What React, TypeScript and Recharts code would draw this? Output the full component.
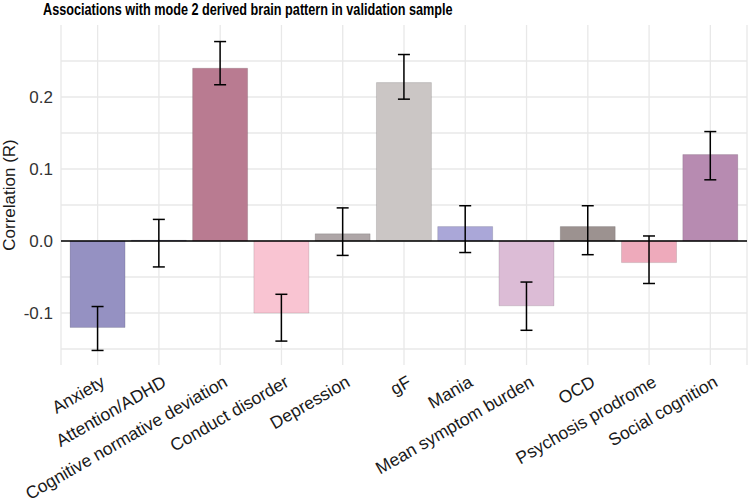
import { BarChart, Bar, XAxis, YAxis, CartesianGrid, ReferenceLine, ErrorBar, Cell } from 'recharts'

const categories = [
  'Anxiety', 'Attention/ADHD', 'Cognitive normative deviation', 'Conduct disorder', 'Depression',
  'gF', 'Mania', 'Mean symptom burden', 'OCD', 'Psychosis prodrome', 'Social cognition',
]
const correlations = [-0.12, 0.001, 0.24, -0.1, 0.01, 0.22, 0.02, -0.09, 0.02, -0.03, 0.12]
const ciLower = [-0.152, -0.036, 0.217, -0.139, -0.02, 0.197, -0.016, -0.124, -0.019, -0.059, 0.085]
const ciUpper = [-0.091, 0.03, 0.277, -0.074, 0.046, 0.259, 0.049, -0.057, 0.049, 0.007, 0.152]
const colors = ['#9591c2', '#9591c2', '#b97b91', '#f9c4d2', '#aea6a7', '#cbc6c5', '#aaa7d8', '#dcbcd6', '#9c9290', '#eeaabb', '#b78bb1']

const yTicks = [-0.1, 0, 0.1, 0.2]
const gridValues = [-0.15, -0.1, -0.05, 0, 0.05, 0.1, 0.15, 0.2, 0.25]

const data = categories.map((name, i) => ({
  name,
  r: correlations[i],
  err: [correlations[i] - ciLower[i], ciUpper[i] - correlations[i]],
}))

const FONT = '"Liberation Sans", Arial, sans-serif'

function XTick({ x, y, payload }: any) {
  return (
    <g transform={`translate(${x + 2},${y + 1})`}>
      <text transform="rotate(-30)" textAnchor="end" dy="0.75em" fontSize={17.5} fill="#1a1a1a" fontFamily={FONT}>
        {payload.value}
      </text>
    </g>
  )
}

function YLabel() {
  return (
    <text x={0} y={0} transform="translate(15,195) rotate(-90)" textAnchor="middle" fontSize={17} fill="#1a1a1a" fontFamily={FONT}>
      Correlation (R)
    </text>
  )
}

export default function App() {
  return (
    <div style={{ position: 'absolute', left: 0, top: 0, width: 748, height: 503, background: '#fff' }}>
      <div style={{ position: 'absolute', left: 43, top: 0, fontFamily: FONT, fontWeight: 'bold', fontSize: 17, color: '#000', whiteSpace: 'nowrap', transform: 'scaleX(0.745)', transformOrigin: 'left top' }}>
        Associations with mode 2 derived brain pattern in validation sample
      </div>
      <BarChart width={748} height={503} data={data} margin={{ top: 25, right: 1, bottom: 0, left: 0 }} barCategoryGap="5%">
        <CartesianGrid stroke="#e8e8e8" strokeWidth={1.3} horizontalValues={gridValues} />
        <XAxis dataKey="name" interval={0} axisLine={false} tickLine={false} height={138} padding={{ left: 6, right: 6 }} tick={<XTick />} />
        <YAxis
          type="number"
          domain={[-0.1722, 0.3]}
          allowDataOverflow
          ticks={yTicks}
          width={61}
          axisLine={false}
          tickLine={false}
          tickFormatter={(v: number) => v.toFixed(1)}
          tick={{ fontSize: 17, fill: '#333', fontFamily: FONT }}
          label={<YLabel />}
        />
        <Bar dataKey="r" isAnimationActive={false} stroke="rgba(0,0,0,0.12)" strokeWidth={1}>
          {data.map((_, i) => <Cell key={i} fill={colors[i]} />)}
          <ErrorBar dataKey="err" width={6} stroke="#000" strokeWidth={1.5} isAnimationActive={false} />
        </Bar>
        <ReferenceLine y={0} stroke="#000" strokeWidth={1.5} />
      </BarChart>
    </div>
  )
}
